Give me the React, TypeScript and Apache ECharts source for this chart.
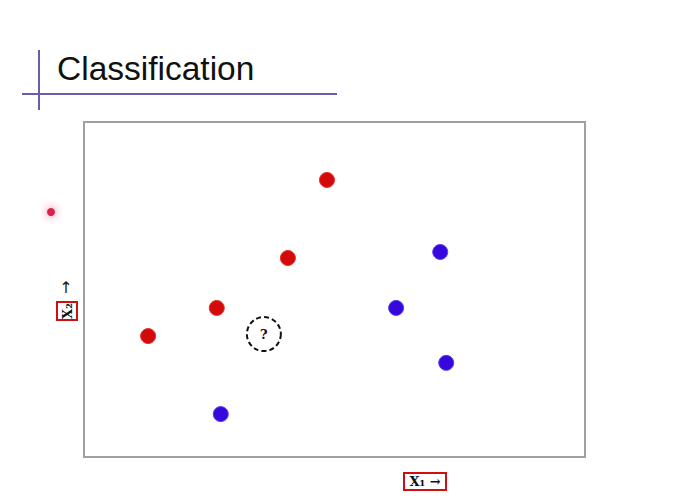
import React, { useEffect, useRef } from "react";
import * as echarts from "echarts";

const redPoints: [number, number][] = [
  [48.5, 82.7],
  [40.7, 59.4],
  [26.5, 44.5],
  [12.8, 36.1],
];
const bluePoints: [number, number][] = [
  [71.1, 61.2],
  [62.3, 44.5],
  [72.3, 28.1],
  [27.3, 12.8],
];
const queryPoint: [number, number][] = [[35.9, 36.7]];
const titleText = "Classification";
const xLabel = "X\u2081 \u2192";
const yLabel = "X\u2082";

export default function App() {
  const ref = useRef<HTMLDivElement>(null);
  useEffect(() => {
    if (!ref.current) return;
    const chart = echarts.init(ref.current, undefined, { renderer: "svg" });
    chart.setOption({
      animation: false,
      backgroundColor: "#ffffff",
      grid: {
        left: 84,
        top: 122,
        width: 501,
        height: 335,
        show: true,
        borderColor: "#a0a0a0",
        borderWidth: 2,
        backgroundColor: "transparent",
      },
      xAxis: {
        type: "value",
        min: 0,
        max: 100,
        axisLine: { show: false },
        axisTick: { show: false },
        axisLabel: { show: false },
        splitLine: { show: false },
      },
      yAxis: {
        type: "value",
        min: 0,
        max: 100,
        axisLine: { show: false },
        axisTick: { show: false },
        axisLabel: { show: false },
        splitLine: { show: false },
      },
      series: [
        {
          type: "scatter",
          data: redPoints,
          symbolSize: 15,
          itemStyle: { color: "#d20a0a", borderColor: "#e83030", borderWidth: 1, opacity: 1 },
        },
        {
          type: "scatter",
          data: bluePoints,
          symbolSize: 15,
          itemStyle: { color: "#3608de", borderColor: "#5a40ee", borderWidth: 1, opacity: 1 },
        },
        {
          type: "scatter",
          data: queryPoint,
          symbolSize: 34,
          itemStyle: {
            color: "rgba(255,255,255,0)",
            borderColor: "#111",
            borderWidth: 2,
            borderType: [5, 3],
            opacity: 1,
          },
          label: {
            show: true,
            position: "inside",
            formatter: "?",
            color: "#111",
            fontFamily: "DejaVu Serif",
            fontWeight: "bold",
            fontSize: 13,
          },
        },
      ],
      graphic: [
        {
          type: "line",
          shape: { x1: 22, y1: 94, x2: 337, y2: 94 },
          style: { stroke: "#6a5ca8", lineWidth: 2 },
        },
        {
          type: "line",
          shape: { x1: 39, y1: 50, x2: 39, y2: 110 },
          style: { stroke: "#6a5ca8", lineWidth: 2 },
        },
        {
          type: "text",
          x: 57,
          y: 68,
          style: {
            text: titleText,
            fontFamily: "Liberation Sans",
            fontSize: 33.5,
            fill: "#111",
            verticalAlign: "middle",
          },
        },
        {
          type: "circle",
          shape: { cx: 51, cy: 212, r: 4 },
          style: {
            fill: "#d8204a",
            shadowBlur: 8,
            shadowColor: "rgba(230,50,90,0.8)",
          },
        },
        {
          type: "text",
          x: 66,
          y: 287,
          style: {
            text: "\u2191",
            fontFamily: "DejaVu Sans",
            fontSize: 16,
            fill: "#222",
            align: "center",
            verticalAlign: "middle",
          },
        },
        {
          type: "rect",
          shape: { x: 57, y: 302, width: 20, height: 18 },
          style: { fill: "none", stroke: "#d01010", lineWidth: 2 },
        },
        {
          type: "text",
          x: 67,
          y: 311,
          rotation: Math.PI / 2,
          style: {
            text: yLabel,
            fontFamily: "DejaVu Serif",
            fontWeight: "bold",
            fontSize: 13,
            fill: "#111",
            align: "center",
            verticalAlign: "middle",
          },
        },
        {
          type: "rect",
          shape: { x: 404, y: 473, width: 42, height: 17 },
          style: { fill: "none", stroke: "#d01010", lineWidth: 2 },
        },
        {
          type: "text",
          x: 425,
          y: 481,
          style: {
            text: xLabel,
            fontFamily: "DejaVu Serif",
            fontWeight: "bold",
            fontSize: 13,
            fill: "#111",
            align: "center",
            verticalAlign: "middle",
          },
        },
      ],
    });
    return () => chart.dispose();
  }, []);
  return (
    <div
      ref={ref}
      style={{ position: "fixed", left: 0, top: 0, width: 675, height: 500 }}
    />
  );
}
